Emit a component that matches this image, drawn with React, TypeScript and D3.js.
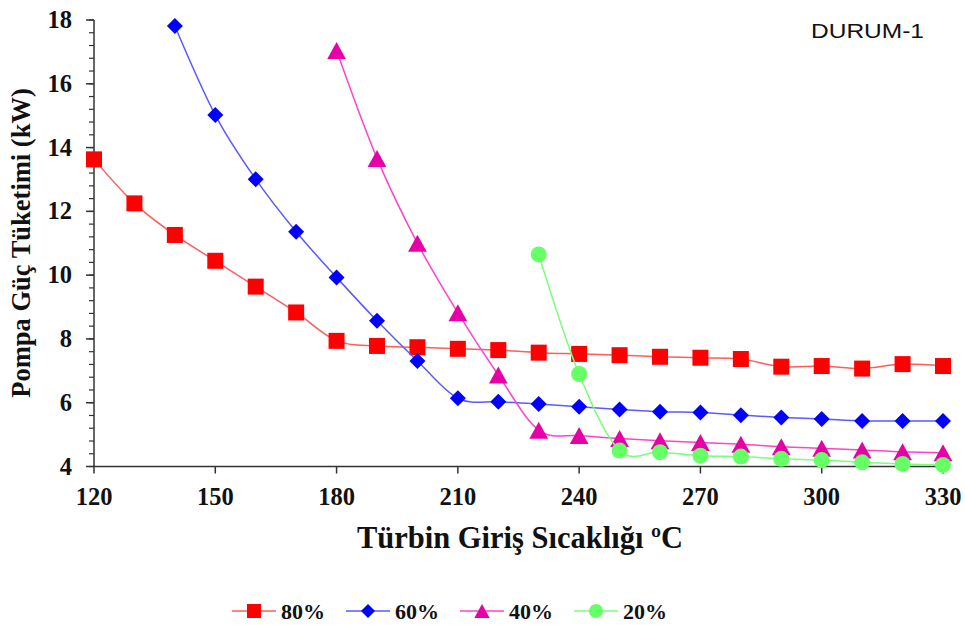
import React from "react";
import * as d3 from "d3";

const temps80 = [120, 130, 140, 150, 160, 170, 180, 190, 200, 210, 220, 230, 240, 250, 260, 270, 280, 290, 300, 310, 320, 330];
const vals80 = [13.63, 12.25, 11.26, 10.45, 9.64, 8.83, 7.94, 7.78, 7.74, 7.69, 7.65, 7.57, 7.53, 7.49, 7.44, 7.41, 7.37, 7.13, 7.15, 7.07, 7.21, 7.15];
const temps60 = [140, 150, 160, 170, 180, 190, 200, 210, 220, 230, 240, 250, 260, 270, 280, 290, 300, 310, 320, 330];
const vals60 = [17.81, 15.02, 13.01, 11.36, 9.93, 8.57, 7.31, 6.14, 6.03, 5.96, 5.87, 5.79, 5.72, 5.69, 5.61, 5.54, 5.49, 5.43, 5.43, 5.43];
const temps40 = [180, 190, 200, 210, 220, 230, 240, 250, 260, 270, 280, 290, 300, 310, 320, 330];
const vals40 = [17.04, 13.66, 11.0, 8.82, 6.87, 5.14, 4.97, 4.88, 4.81, 4.75, 4.7, 4.62, 4.57, 4.52, 4.46, 4.43];
const temps20 = [230, 240, 250, 260, 270, 280, 290, 300, 310, 320, 330];
const vals20 = [10.65, 6.9, 4.5, 4.45, 4.34, 4.31, 4.24, 4.2, 4.13, 4.08, 4.05];

const seriesNames = ["80%", "60%", "40%", "20%"];
const xTicks = [120, 150, 180, 210, 240, 270, 300, 330];
const yTicks = [4, 6, 8, 10, 12, 14, 16, 18];

const xTitle = "Türbin Giriş Sıcaklığı ºC";
const yTitle = "Pompa Güç Tüketimi (kW)";
const caseLabel = "DURUM-1";

type Series = { name: string; xs: number[]; ys: number[]; marker: string; fill: string; line: string };

const series: Series[] = [
  { name: seriesNames[0], xs: temps80, ys: vals80, marker: "square", fill: "#ff0000", line: "#ff5c5c" },
  { name: seriesNames[1], xs: temps60, ys: vals60, marker: "diamond", fill: "#0000ff", line: "#5a5aff" },
  { name: seriesNames[2], xs: temps40, ys: vals40, marker: "triangle", fill: "#e600a8", line: "#ff44cc" },
  { name: seriesNames[3], xs: temps20, ys: vals20, marker: "circle", fill: "#66ff66", line: "#7aff7a" },
];

function Marker({ type, x, y, fill, s }: { type: string; x: number; y: number; fill: string; s: number }) {
  if (type === "square") return <rect x={x - s / 2} y={y - s / 2} width={s} height={s} fill={fill} />;
  if (type === "diamond") {
    const h = s / 2;
    return <polygon points={`${x},${y - h} ${x + h},${y} ${x},${y + h} ${x - h},${y}`} fill={fill} />;
  }
  if (type === "triangle") {
    const w = s * 1.1;
    const h = s;
    return <polygon points={`${x},${y - h / 2} ${x + w / 2},${y + h / 2} ${x - w / 2},${y + h / 2}`} fill={fill} />;
  }
  return <circle cx={x} cy={y} r={s / 2} fill={fill} />;
}

export default function App() {
  const W = 965, H = 625;
  const left = 94, right = 943, top = 20, bottom = 466.5;
  const x = d3.scaleLinear().domain([120, 330]).range([left, right]);
  const y = d3.scaleLinear().domain([4, 18]).range([bottom, top]);
  const minor = d3.range(4, 18.001, 0.4);
  const serif = "'Liberation Serif', 'Times New Roman', serif";
  const axisColor = "#333";
  const line = d3
    .line<[number, number]>()
    .x((d) => x(d[0]))
    .y((d) => y(d[1]))
    .curve(d3.curveCatmullRom.alpha(0));

  const legendStarts = [232, 346, 460, 574];
  const legendY = 611;
  const markerSizes: Record<string, number> = { square: 16, diamond: 16, triangle: 17, circle: 16 };

  return (
    <svg width={W} height={H} style={{ position: "absolute", left: 0, top: 0, background: "#fff" }} fontFamily={serif}>
      <rect x={0} y={0} width={W} height={H} fill="#fff" />
      {/* y axis */}
      <line x1={left} x2={left} y1={top} y2={bottom} stroke={axisColor} strokeWidth={1.5} />
      {minor.map((v, i) => (
        <line key={"m" + i} x1={left - 5} x2={left} y1={y(v)} y2={y(v)} stroke={axisColor} strokeWidth={1.2} />
      ))}
      {yTicks.map((v) => (
        <g key={"y" + v}>
          <line x1={left - 8} x2={left} y1={y(v)} y2={y(v)} stroke={axisColor} strokeWidth={1.5} />
          <text x={72} y={y(v) + 8} textAnchor="end" fontSize={24.5} fontWeight="bold" fill="#111">
            {v}
          </text>
        </g>
      ))}
      {/* x axis */}
      <line x1={left} x2={right} y1={bottom} y2={bottom} stroke={axisColor} strokeWidth={1.5} />
      {xTicks.map((v) => (
        <g key={"x" + v}>
          <line x1={x(v)} x2={x(v)} y1={bottom} y2={bottom + 7} stroke={axisColor} strokeWidth={1.5} />
          <text x={x(v)} y={505} textAnchor="middle" fontSize={24.5} fontWeight="bold" fill="#111">
            {v}
          </text>
        </g>
      ))}
      <text x={520} y={548} textAnchor="middle" fontSize={30.5} fontWeight="bold" fill="#111">
        {xTitle}
      </text>
      <text transform={`translate(30,243) rotate(-90)`} textAnchor="middle" fontSize={26.5} fontWeight="bold" fill="#111">
        {yTitle}
      </text>
      <text x={811} y={38} fontSize={21} fontFamily="'Liberation Sans', Arial, sans-serif" fill="#111" textLength={113} lengthAdjust="spacingAndGlyphs">
        {caseLabel}
      </text>
      {/* series */}
      {series.map((s) => {
        const pts = s.xs.map((t, i) => [t, s.ys[i]] as [number, number]);
        return (
          <g key={s.name}>
            <path d={line(pts) || ""} fill="none" stroke={s.line} strokeWidth={1.5} />
            {pts.map((p, i) => (
              <Marker key={i} type={s.marker} x={x(p[0])} y={y(p[1])} fill={s.fill} s={markerSizes[s.marker]} />
            ))}
          </g>
        );
      })}
      {/* legend */}
      {series.map((s, i) => {
        const x0 = legendStarts[i];
        return (
          <g key={"lg" + s.name}>
            <line x1={x0} x2={x0 + 44} y1={legendY} y2={legendY} stroke={s.line} strokeWidth={1.5} />
            <Marker type={s.marker} x={x0 + 22} y={legendY} fill={s.fill} s={14} />
            <text x={x0 + 49} y={legendY + 7.5} fontSize={22} fontWeight="bold" fill="#111">
              {s.name}
            </text>
          </g>
        );
      })}
    </svg>
  );
}
